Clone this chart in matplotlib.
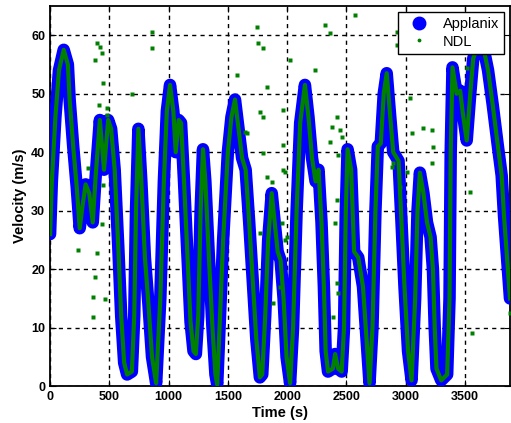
import matplotlib
matplotlib.use("Agg")
import matplotlib.pyplot as plt
from matplotlib.lines import Line2D
import numpy as np

# Applanix reference velocity (time s, velocity m/s)
t_ref = [0, 15, 45, 75, 115, 150, 165, 195, 225, 250, 275, 300, 330, 360, 385,
         420, 455, 490, 515, 545, 575, 600, 625, 650, 690, 710, 725, 745, 770,
         800, 830, 860, 895, 930, 960, 985, 1012, 1040, 1060, 1085, 1105, 1130,
         1160, 1185, 1210, 1230, 1250, 1270, 1290, 1310, 1340, 1370, 1395, 1410,
         1430, 1460, 1500, 1530, 1560, 1590, 1620, 1650, 1680, 1710, 1740, 1770,
         1790, 1815, 1840, 1870, 1895, 1920, 1945, 1970, 1995, 2025, 2050, 2080,
         2110, 2150, 2180, 2210, 2240, 2265, 2290, 2310, 2325, 2345, 2385, 2405,
         2430, 2460, 2480, 2495, 2510, 2540, 2565, 2600, 2640, 2670, 2695, 2720,
         2745, 2765, 2790, 2815, 2840, 2870, 2895, 2940, 2965, 2990, 3020, 3050,
         3080, 3100, 3120, 3150, 3180, 3210, 3230, 3245, 3260, 3300, 3350, 3370,
         3380, 3395, 3430, 3460, 3480, 3515, 3545, 3570, 3620, 3665, 3695, 3735,
         3775, 3810, 3830, 3855, 3880]
v_ref = [26, 35, 46, 54, 57.5, 55, 49, 41, 34, 27, 31, 34.5, 33, 28, 36,
         45.5, 37, 45.5, 44, 37, 24, 12, 4, 2, 2.5, 12, 30, 44, 35,
         22, 14, 5, 0.5, 15, 35, 47, 51.5, 47, 40, 45.5, 45, 35,
         22, 11, 6, 5.5, 12, 30, 40.5, 35, 22, 10, 2, 0.3,
         10, 25, 40, 46, 49, 44, 39, 37, 28, 18, 8, 1.5,
         2, 12, 25, 33, 28, 23, 21.5, 15, 5, 0.5, 10, 30,
         45, 51.5, 46, 39, 35, 37, 28, 17, 6, 2.5, 3, 5.5,
         3, 2.5, 10, 30, 40.5, 37, 23, 22, 17, 8, 0.5, 10,
         30, 41, 41.5, 50, 53.5, 46, 40, 38.5, 28, 17, 6, 1,
         15, 30, 36.5, 33, 28, 25.5, 20, 10, 3, 1, 2, 15,
         40, 54.5, 50, 50.5, 47, 42, 50, 56, 59, 57, 54, 48,
         41.5, 36, 29, 22, 15]

# NDL stray fixes away from the reference track
t_ndl_out = [396, 421, 438, 379, 447, 413, 481, 481, 860, 860, 691, 1576, 1661,
             1753, 1770, 320, 447, 236, 396, 438, 379, 362, 464, 362, 1745, 2318,
             2360, 1796, 2571, 2023, 2234, 1829, 1796, 1964, 2419, 2377, 2445,
             2462, 2360, 1964, 1796, 3144, 3220, 3035, 3229, 1964, 1829, 1871,
             3220, 2891, 3010, 3515, 3566, 2925, 2925, 3052, 2883, 2951, 3541,
             3557, 3878, 2428, 2419, 2403, 2419, 2428, 2386, 1998, 1981, 1956,
             1939, 1880, 1770, 1981, 1644]
v_ndl_out = [58.6, 57.9, 56.9, 55.7, 51.8, 48.0, 47.5, 46.3, 60.5, 57.8, 49.9,
             53.2, 43.2, 58.6, 46.8, 37.3, 34.4, 23.2, 22.7, 27.7, 18.6, 15.2,
             14.9, 11.8, 61.4, 61.7, 60.3, 57.8, 63.4, 55.7, 54.0, 51.1, 46.0,
             47.2, 46.0, 44.3, 43.8, 42.6, 41.7, 41.2, 39.8, 44.1, 43.8, 49.2,
             40.9, 36.9, 35.7, 34.9, 38.1, 38.1, 36.6, 54.4, 59.5, 60.5, 58.3,
             43.2, 37.4, 34.0, 33.2, 9.1, 12.5, 39.5, 31.8, 27.9, 17.6, 15.9,
             11.8, 25.5, 25.0, 27.9, 16.9, 14.2, 26.2, 36.6, 43.4]

x_ticks = [0, 500, 1000, 1500, 2000, 2500, 3000, 3500]
y_ticks = [0, 10, 20, 30, 40, 50, 60]

plt.rcParams['font.family'] = ['Liberation Sans', 'DejaVu Sans']

fig = plt.figure(figsize=(5.11, 4.23), dpi=100)
ax = fig.add_axes([0.098, 0.087, 0.9, 0.899])

ax.plot(t_ref, v_ref, color='#0000ff', lw=9, solid_joinstyle='round',
        solid_capstyle='round', zorder=3)
ax.plot(t_ref, v_ref, color='#008000', lw=3, solid_joinstyle='round', zorder=4)
ax.plot(t_ndl_out, v_ndl_out, ls='none', marker='s', ms=2.3, mec='none',
        color='#008000', zorder=4)

ax.set_xlim(0, 3880)
ax.set_ylim(0, 65)
ax.set_xticks(x_ticks)
ax.set_yticks(y_ticks)
ax.tick_params(direction='in', length=4, labelsize=9, top=True, right=True)
for lab in ax.get_xticklabels() + ax.get_yticklabels():
    lab.set_fontweight('bold')
ax.grid(True, color='black', linestyle=(0, (3, 3)), linewidth=1.0)
ax.set_axisbelow(True)
for s in ax.spines.values():
    s.set_linewidth(1.3)

ax.set_xlabel('Time (s)', fontsize=10.5, fontweight='bold', labelpad=2)
ax.set_ylabel('Velocity (m/s)', fontsize=10.5, fontweight='bold', labelpad=3)

handles = [Line2D([], [], ls='none', marker='o', ms=9, color='#0000ff'),
           Line2D([], [], ls='none', marker='.', ms=3.5, color='#008000')]
leg = ax.legend(handles, ['Applanix', 'NDL'], loc='upper right',
                fontsize=10.5, frameon=True, fancybox=False, framealpha=1,
                borderaxespad=0.4, handletextpad=0.5, handlelength=2.2,
                borderpad=0.35, labelspacing=0.25)
leg.get_frame().set_edgecolor('black')
leg.get_frame().set_linewidth(1.0)
leg.set_zorder(10)

fig.savefig('out.png', dpi=100)
